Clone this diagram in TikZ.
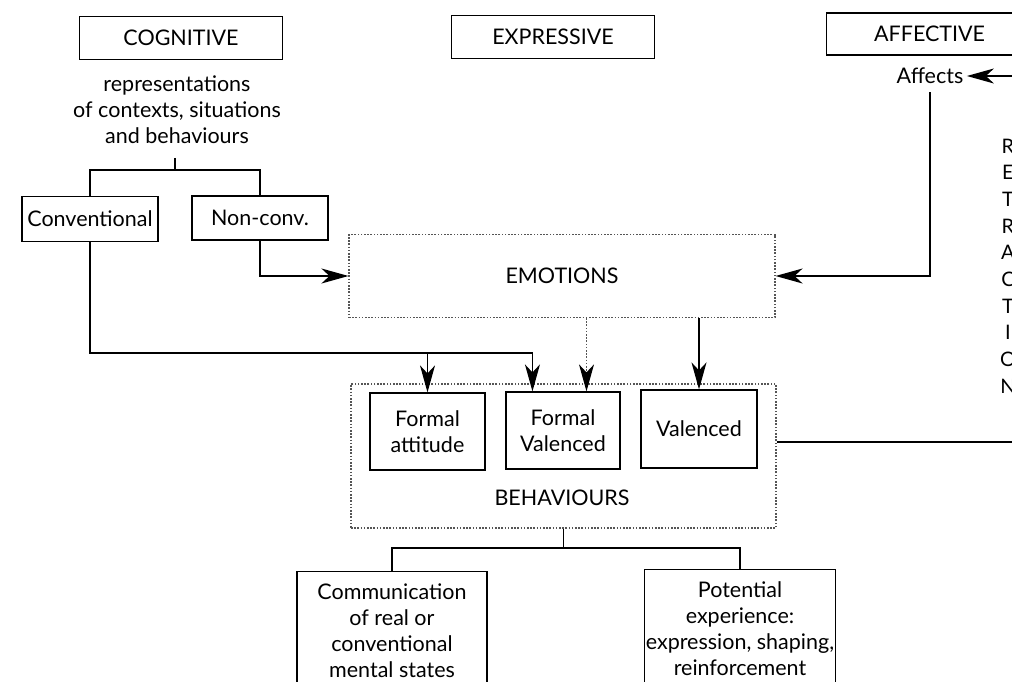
\documentclass[tikz,border=0pt]{standalone}
\usepackage{fontspec}
\setmainfont{Lato}
\usetikzlibrary{arrows.meta, positioning}
\definecolor{dotGrey}{HTML}{555555}
\tikzset{
  box/.style     = {draw, line width=1.2pt, inner sep=0pt, align=center},
  dotbox/.style  = {draw=dotGrey, line width=1.1pt, dash pattern=on 1.6pt off 1.6pt,
                    inner sep=0pt, align=center},
  link/.style    = {line width=1.3pt},
  arr/.style     = {link, -{Stealth[length=27pt, width=15pt, inset=8pt]}},
  dotarr/.style  = {line width=1.1pt, dotGrey, dash pattern=on 1.6pt off 1.6pt,
                    -{Stealth[length=27pt, width=15pt, inset=8pt, color=black]}},
  lbl/.style     = {align=center, inner sep=0pt},
}

\begin{document}
\begin{tikzpicture}[x=1pt, y=-1pt, font=\fontsize{21.5}{26}\selectfont]
  \useasboundingbox (0,0) rectangle (1012,682);
  % top row
  \node[box, minimum width=203pt, minimum height=43pt] (cog) at (181,38) {COGNITIVE};
  \node[box, minimum width=203pt, minimum height=43pt] (expr) at (553,37) {EXPRESSIVE};
  \node[box, minimum width=206pt, minimum height=42pt, anchor=west] (aff) at (826,34) {AFFECTIVE};
  \node[lbl] (repr) at (177,110) {representations\\of contexts, situations\\and behaviours};
  \node (affects) at (930,76) {Affects};
  \node[lbl, font=\fontsize{20}{26.7}\selectfont] (retr) at (1008,266)
    {R\\E\\T\\R\\A\\C\\T\\I\\O\\N};
  % cognitive split
  \node[box, minimum width=136pt, minimum height=45pt] (conv) at (90,219) {Conventional};
  \node[box, minimum width=136pt, minimum height=44pt] (nonconv) at (260,218) {Non-conv.};
  \coordinate (cogtop) at (175,158);
  \coordinate (cogsplit) at (175,170);
  \draw[link] (cogtop) -- (cogsplit);
  \draw[link] (conv.north) |- (cogsplit) -| (nonconv.north);
  % emotions and behaviours
  \node[dotbox, minimum width=426pt, minimum height=83pt] (emo) at (562,276) {EMOTIONS};
  \node[dotbox, minimum width=425pt, minimum height=144pt] (beh) at (563.5,456) {};
  \node[lbl] (behlbl) at (562,498) {BEHAVIOURS};
  \node[box, minimum width=115pt, minimum height=77pt] (fatt) at (427.5,431.5) {Formal\\attitude};
  \node[box, minimum width=114pt, minimum height=77pt] (fval) at (563,430.5) {Formal\\Valenced};
  \node[box, minimum width=116pt, minimum height=78pt] (val) at (699,429) {Valenced};
  \draw[arr] (nonconv.south) |- (emo.west);
  \draw[arr, shorten <=5pt] (affects.south) |- (emo.east);
  \coordinate (affin) at (1030,76);
  \draw[arr] (affin) -- (affects.east);
  \coordinate (convbend) at (conv.south |- 0,353);
  \draw[arr] (conv.south) -- (convbend) -| (fval.128);
  \draw[arr] (convbend -| fatt.north) -- (fatt.north);
  \draw[dotarr] (emo.south -| fval.59) -- (fval.59);
  \draw[arr] (emo.south -| val.north) -- (val.north);
  \coordinate (behout) at (1030,442);
  \draw[link] (beh.east |- behout) -- (behout);
  % outcomes
  \node[box, minimum width=190pt, minimum height=118pt, anchor=north] (comm) at (392,571)
    {Communication\\of real or\\conventional\\mental states};
  \node[box, minimum width=191pt, minimum height=118pt, anchor=north] (pot) at (740,569)
    {Potential\\experience:\\expression, shaping,\\reinforcement};
  \coordinate (behsplit) at (564,548);
  \draw[link] (beh.south) -- (beh.south |- behsplit);
  \draw[link] (comm.north) |- (behsplit) -| (pot.north);
\end{tikzpicture}
\end{document}
